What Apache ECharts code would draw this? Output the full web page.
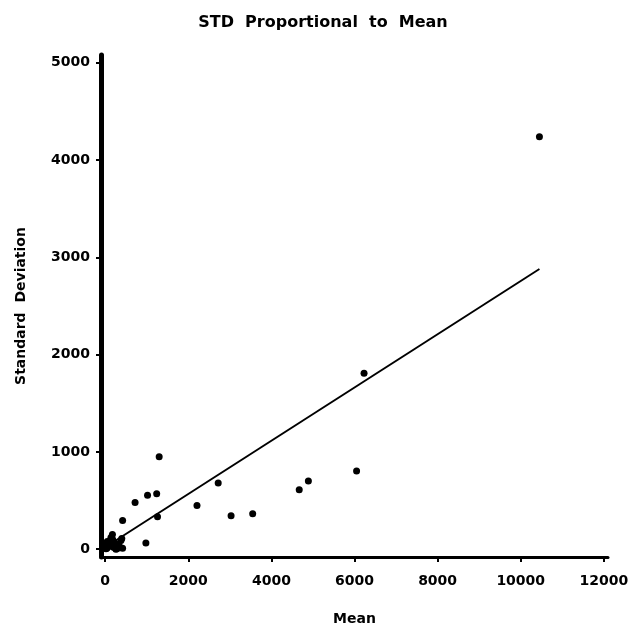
<!DOCTYPE html>
<html>
<head>
<meta charset="utf-8">
<script src="https://cdn.jsdelivr.net/npm/echarts@6/dist/echarts.min.js"></script>
<style>
  html,body{margin:0;padding:0;background:#fff;}
  #chart{width:633px;height:631px;}
</style>
</head>
<body>
<div id="chart"></div>
<script>
// mean / std pairs
const meanVals = [10450, 6230, 6050, 4890, 4670, 3550, 3030, 2720, 2210, 1300, 1260, 1240, 1020, 980, 720, 420, 400, 175,
  20, 40, 60, 80, 100, 150, 200, 250, 300, 350, 420, 50, 120, 180, 280, 330, 90, 30, 220, 380, 260, 140];
const stdVals = [4240, 1810, 805, 700, 610, 365, 345, 680, 450, 950, 335, 570, 555, 65, 480, 295, 110, 150,
  5, 10, 20, 30, 40, 60, 20, 10, 30, 15, 10, 80, 90, 100, 5, 50, 60, 40, 70, 90, 0, 120];
// fitted line ends
const fitX = [0, 10450];
const fitY = [20, 2880];

const xTicks = [0, 2000, 4000, 6000, 8000, 10000, 12000];
const yTicks = [0, 1000, 2000, 3000, 4000, 5000];

const points = meanVals.map((m, i) => [m, stdVals[i]]);
const fitLine = fitX.map((x, i) => [x, fitY[i]]);

const font = 'DejaVu Sans, sans-serif';
const chart = echarts.init(document.getElementById('chart'));

chart.setOption({
  animation: false,
  backgroundColor: '#fff',
  title: {
    text: 'STD  Proportional  to  Mean',
    left: 318, top: 10, textAlign: 'center',
    textStyle: {fontFamily: font, fontWeight: 'bold', fontSize: 16, color: '#000'}
  },
  grid: {left: 101, right: 25, top: 55, bottom: 66},
  xAxis: {
    type: 'value', min: -100, max: 12100,
    name: 'Mean', nameLocation: 'middle', nameGap: 55,
    nameTextStyle: {fontFamily: font, fontWeight: 'bold', fontSize: 14, color: '#000'},
    axisLine: {onZero: false, lineStyle: {color: '#000', width: 3}},
    axisTick: {show: true, customValues: xTicks, length: 5, lineStyle: {color: '#000', width: 2}},
    axisLabel: {customValues: xTicks, margin: 17, formatter: v => String(v),
      fontFamily: font, fontWeight: 'bold', fontSize: 14, color: '#000'},
    splitLine: {show: false}
  },
  yAxis: {
    type: 'value', min: -80, max: 5080,
    name: 'Standard  Deviation', nameLocation: 'middle', nameGap: 73, nameRotate: 90,
    nameTextStyle: {fontFamily: font, fontWeight: 'bold', fontSize: 14, color: '#000'},
    axisLine: {onZero: false, lineStyle: {color: '#000', width: 5}},
    axisTick: {show: true, customValues: yTicks, length: 5, lineStyle: {color: '#000', width: 2}},
    axisLabel: {customValues: yTicks, margin: 11, formatter: v => String(v),
      fontFamily: font, fontWeight: 'bold', fontSize: 14, color: '#000'},
    splitLine: {show: false}
  },
  series: [
    {
      type: 'scatter', data: points, symbolSize: 7,
      itemStyle: {color: '#000', opacity: 1}
    },
    {
      type: 'line', data: fitLine, symbol: 'none',
      lineStyle: {color: '#000', width: 2}
    }
  ]
});
</script>
</body>
</html>
